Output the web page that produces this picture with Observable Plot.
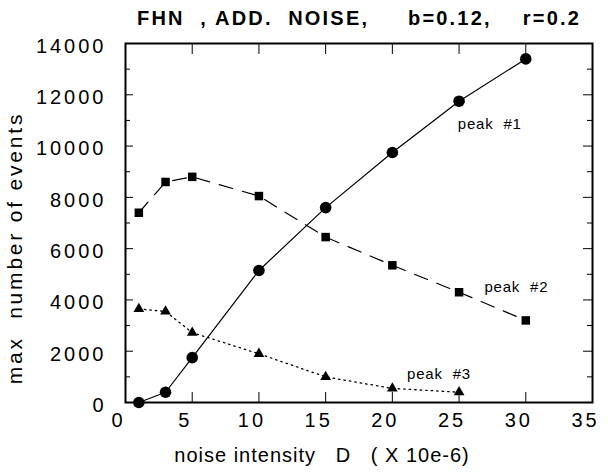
<!DOCTYPE html>
<html><head><meta charset="utf-8">
<script src="https://cdn.jsdelivr.net/npm/d3@7"></script>
<script src="https://cdn.jsdelivr.net/npm/@observablehq/plot@0.6"></script>
<style>
body{margin:0;background:#fff;font-family:"Liberation Sans",Arial,sans-serif;}
#title{height:34px;line-height:36px;font-weight:bold;font-size:20px;letter-spacing:2.2px;white-space:pre;padding-left:137px;color:#000;}
g[aria-label="y-axis tick label"] text, g[aria-label="x-axis tick label"] text{letter-spacing:3px;}
g.ylab text{letter-spacing:2.8px;white-space:pre;}
g.xlab text{letter-spacing:1px;white-space:pre;}
g.ann text{white-space:pre;letter-spacing:0.8px;}
</style>
</head><body>
<div id="title">FHN  , ADD.  NOISE,     b=0.12,    r=0.2</div>
<div id="chart"></div>
<script>
const xLabel = ["noise intensity   D   ( X 10e-6)"];
const yLabel = ["max  number of events"];

const D = [1, 3, 5, 10, 15, 20, 25, 30];
const peak1 = [0, 400, 1750, 5150, 7600, 9750, 11750, 13400];
const peak2 = [7400, 8600, 8800, 8050, 6450, 5350, 4300, 3200];
const D3 = [1, 3, 5, 10, 15, 20, 25];
const peak3 = [3650, 3550, 2725, 1900, 1000, 550, 400];

const xTicks = [0, 5, 10, 15, 20, 25, 30, 35];
const xInnerTicks = [5, 10, 15, 20, 25, 30];
const yTicks = [0, 2000, 4000, 6000, 8000, 10000, 12000, 14000];
const yMinorTicks = [1000, 3000, 5000, 7000, 9000, 11000, 13000];

const labels = ["peak  #1", "peak  #2", "peak  #3"];
const labelX = [24.9, 26.9, 21.1];
const labelY = [10870, 4500, 1095];

const s1 = D.map((d, i) => ({x: d, y: peak1[i]}));
const s2 = D.map((d, i) => ({x: d, y: peak2[i]}));
const s3 = D3.map((d, i) => ({x: d, y: peak3[i]}));
const ann = labels.map((t, i) => ({t, x: labelX[i], y: labelY[i]}));

const plot = Plot.plot({
  width: 609, height: 438,
  marginLeft: 125, marginRight: 17, marginTop: 9, marginBottom: 70,
  style: {fontFamily: '"Liberation Sans", Arial, sans-serif', background: "#fff", color: "#000", overflow: "visible"},
  x: {domain: [0, 35], axis: null},
  y: {domain: [0, 14000], axis: null},
  marks: [
    Plot.axisX(xTicks, {anchor: "bottom", tickSize: 0, tickPadding: 10, fontSize: 20, label: null, tickFormat: d => String(d), dx: -7}),
    Plot.axisY(yTicks, {anchor: "left", tickSize: 0, tickPadding: 19, fontSize: 20, label: null, tickFormat: d => String(d), dy: 3}),
    Plot.text(xLabel, {text: d => d, frameAnchor: "bottom", textAnchor: "middle", lineAnchor: "middle", dx: -37, dy: 53, fontSize: 20, fill: "#000", className: "xlab"}),
    Plot.text(yLabel, {text: d => d, frameAnchor: "left", textAnchor: "middle", rotate: -90, lineAnchor: "middle", dx: -110, dy: 25, fontSize: 21, fill: "#000", className: "ylab"}),
    Plot.axisX(xInnerTicks, {anchor: "bottom", tickSize: 10, dy: -10, text: null, label: null}),
    Plot.axisX(xInnerTicks, {anchor: "top", tickSize: 10, dy: 10, text: null, label: null}),
    Plot.axisY(yTicks, {anchor: "left", tickSize: 8, dx: 8, text: null, label: null}),
    Plot.axisY(yMinorTicks, {anchor: "left", tickSize: 5, dx: 5, text: null, label: null}),
    Plot.axisY(yTicks, {anchor: "right", tickSize: 10, dx: -10, text: null, label: null}),
    Plot.axisY(yMinorTicks, {anchor: "right", tickSize: 6, dx: -6, text: null, label: null}),
    Plot.frame({stroke: "#000", strokeWidth: 2}),
    Plot.line(s1, {x: "x", y: "y", stroke: "#000", strokeWidth: 1.2}),
    Plot.line(s2, {x: "x", y: "y", stroke: "#000", strokeWidth: 1.2, strokeDasharray: "14,10"}),
    Plot.line(s3, {x: "x", y: "y", stroke: "#000", strokeWidth: 1.3, strokeDasharray: "1.5,4"}),
    Plot.dot(s1, {x: "x", y: "y", symbol: "circle", r: 5.8, fill: "#000"}),
    Plot.dot(s2, {x: "x", y: "y", symbol: "square", r: 4.8, fill: "#000"}),
    Plot.dot(s3, {x: "x", y: "y", symbol: "triangle", r: 4, fill: "#000"}),
    Plot.text(ann, {x: "x", y: "y", text: "t", textAnchor: "start", fontSize: 15, fill: "#000", className: "ann"})
  ]
});
document.getElementById("chart").appendChild(plot);
</script>
</body></html>
